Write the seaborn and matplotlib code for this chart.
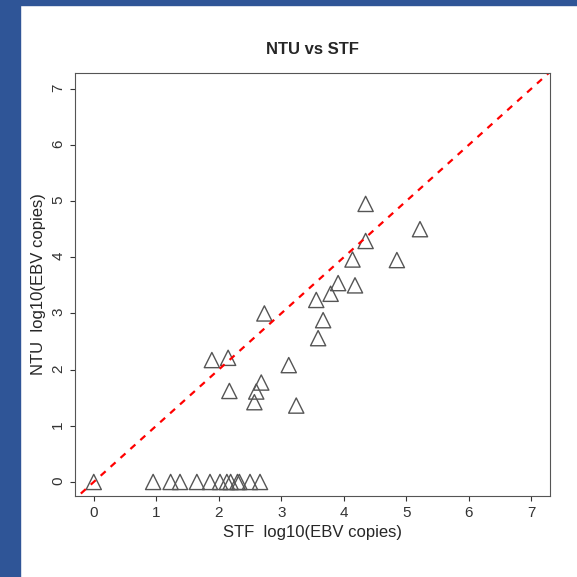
import matplotlib
matplotlib.use("Agg")
import matplotlib.pyplot as plt
import seaborn as sns
import pandas as pd
from matplotlib.patches import Rectangle

stf = [0, 0.95, 1.23, 1.38, 1.65, 1.86, 2.02, 2.13, 2.19, 2.30, 2.33, 2.50, 2.66,
       4.35, 5.22, 4.35, 4.14, 4.85, 3.91, 4.18, 3.79, 3.56, 3.67, 3.59, 2.73,
       1.89, 2.15, 3.12, 2.17, 2.68, 2.60, 2.57, 3.24]
ntu = [0]*13 + [4.95, 4.50, 4.29, 3.96, 3.95, 3.54, 3.50, 3.35, 3.24, 2.88, 2.56, 3.00,
                2.17, 2.21, 2.08, 1.62, 1.77, 1.61, 1.42, 1.36]
ticks = list(range(8))
df = pd.DataFrame({"stf": stf, "ntu": ntu})

sns.set_style("ticks")
plt.rcParams['font.family'] = ['Liberation Sans', 'DejaVu Sans']
fig = plt.figure(figsize=(5.77, 5.77), dpi=100)
fig.patches.append(Rectangle((0, 0), 20/577, 1, transform=fig.transFigure, color="#2f5597", zorder=-1))
fig.patches.append(Rectangle((0, 1-5/577), 1, 5/577, transform=fig.transFigure, color="#2f5597", zorder=-1))
ax = fig.add_axes([75/577, 1-496/577, 475/577, 423/577])
sns.scatterplot(data=df, x="stf", y="ntu", marker="^", s=120, facecolor="none",
                edgecolor="#555555", linewidth=1.0, ax=ax)
ax.plot([-1, 8], [-1, 8], ls=(0, (3, 3)), color="red", lw=1.6)
ax.set_xlim(-0.3, 7.3)
ax.set_ylim(-0.25, 7.28)
ax.set_xticks(ticks)
ax.set_yticks(ticks)
ax.tick_params(axis="y", labelrotation=90)
ax.tick_params(labelsize=11, colors="#333333")
for s in ax.spines.values():
    s.set_color("#555555")
ax.set_xlabel("STF  log10(EBV copies)", fontsize=12)
ax.set_ylabel("NTU  log10(EBV copies)", fontsize=12)
ax.set_title("NTU vs STF", fontsize=12, fontweight="bold", pad=14)
fig.savefig("out.png", dpi=100)
